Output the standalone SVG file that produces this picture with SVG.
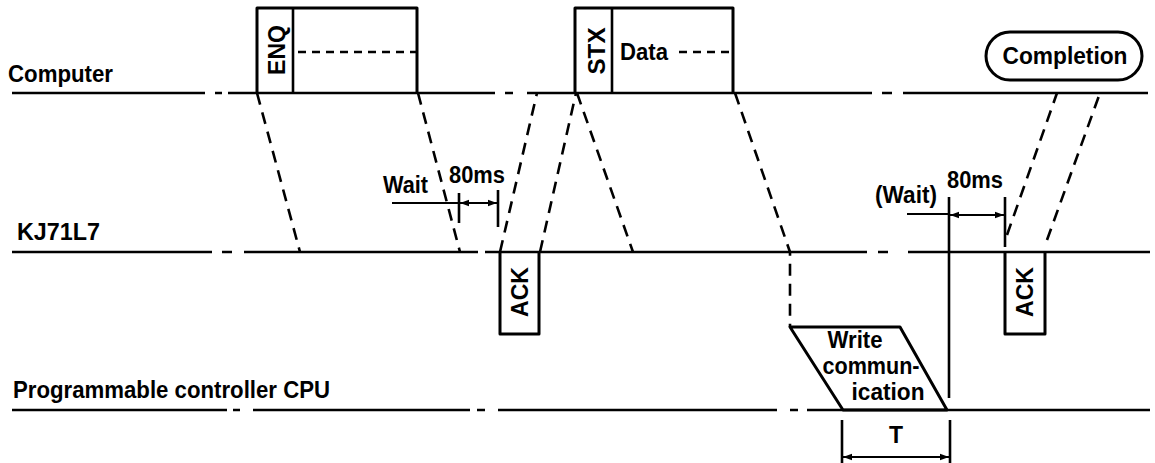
<svg xmlns="http://www.w3.org/2000/svg" width="1155" height="463" viewBox="0 0 1155 463">
<style>
text{font-family:"Liberation Sans",Arial,sans-serif;font-weight:bold;fill:#000}
.lbl{font-size:23px}
.box{fill:none;stroke:#000;stroke-width:3;stroke-linejoin:round}
.ln{stroke:#000;stroke-width:2.6;fill:none}
.thin{stroke:#000;stroke-width:2.2;fill:none}
.dsh{stroke:#000;stroke-width:2.6;fill:none;stroke-dasharray:12 8}
.dshs{stroke:#000;stroke-width:2.6;fill:none;stroke-dasharray:8 6}
</style>
<defs>
<marker id="ah" viewBox="0 0 10 10" refX="10" refY="5" markerWidth="11" markerHeight="9" orient="auto-start-reverse" markerUnits="userSpaceOnUse">
<path d="M0,1.5 L10,5 L0,8.5 Z" fill="#000"/>
</marker>
</defs>
<rect width="1155" height="463" fill="#fff"/>

<g id="lane-computer">
<text class="lbl" x="8" y="82" textLength="105" lengthAdjust="spacingAndGlyphs">Computer</text>
<path class="ln" d="M12,93H205 M215,93H222 M228,93H495 M505,93H513 M527,93H872 M882,93H892 M903,93H1148"/>
</g>
<g id="lane-kj71l7">
<text class="lbl" x="17" y="240" textLength="83" lengthAdjust="spacingAndGlyphs">KJ71L7</text>
<path class="ln" d="M12,252H212 M222,252H232 M244,252H478 M485,252H867 M878,252H888 M908,252H1150"/>
</g>
<g id="lane-cpu">
<text class="lbl" x="13" y="398" textLength="317" lengthAdjust="spacingAndGlyphs">Programmable controller CPU</text>
<path class="ln" d="M12,410H227 M233,410H240 M253,410H470 M477,410H485 M498,410H777 M790,410H798 M807,410H1150"/>
</g>

<g id="node-enq">
<path class="box" d="M257,93V8H417V93"/>
<line class="ln" x1="293" y1="8" x2="293" y2="93"/>
<line class="dshs" x1="298" y1="52" x2="417" y2="52"/>
<text class="lbl" transform="translate(285,50) rotate(-90)" text-anchor="middle" textLength="50" lengthAdjust="spacingAndGlyphs">ENQ</text>
</g>

<g id="node-stx">
<path class="box" d="M575,93V8H733V93"/>
<line class="ln" x1="612" y1="8" x2="612" y2="93"/>
<text class="lbl" transform="translate(605,51) rotate(-90)" text-anchor="middle" textLength="47" lengthAdjust="spacingAndGlyphs">STX</text>
<text class="lbl" x="620" y="60" textLength="48" lengthAdjust="spacingAndGlyphs">Data</text>
<line class="dshs" x1="679" y1="52" x2="733" y2="52"/>
</g>

<g id="node-completion">
<rect class="box" x="986" y="32" width="156" height="48" rx="24" ry="24"/>
<text class="lbl" x="1065" y="64" text-anchor="middle" textLength="125" lengthAdjust="spacingAndGlyphs">Completion</text>
</g>

<g id="node-ack1">
<path class="box" d="M500,252V334H539V252"/>
<text class="lbl" transform="translate(528,292) rotate(-90)" text-anchor="middle" textLength="50" lengthAdjust="spacingAndGlyphs">ACK</text>
</g>

<g id="node-ack2">
<path class="box" d="M1005,252V334H1045V252"/>
<text class="lbl" transform="translate(1033,292) rotate(-90)" text-anchor="middle" textLength="50" lengthAdjust="spacingAndGlyphs">ACK</text>
</g>

<g id="node-write">
<path class="box" d="M790,327H900L947,410H843Z"/>
<text class="lbl" x="855" y="348" text-anchor="middle" textLength="55" lengthAdjust="spacingAndGlyphs">Write</text>
<text class="lbl" x="871" y="374" text-anchor="middle" textLength="97" lengthAdjust="spacingAndGlyphs">commun-</text>
<text class="lbl" x="888" y="400" text-anchor="middle" textLength="73" lengthAdjust="spacingAndGlyphs">ication</text>
</g>

<g id="connectors">
<line class="dsh" x1="257" y1="93" x2="300" y2="252"/>
<line class="dsh" x1="418" y1="93" x2="460" y2="252"/>
<line class="dsh" x1="500" y1="252" x2="537" y2="93"/>
<line class="dsh" x1="540" y1="252" x2="576" y2="93"/>
<line class="dsh" x1="577" y1="93" x2="633" y2="252"/>
<path class="dsh" d="M735,93L790,252V327"/>
<line class="dsh" x1="1007" y1="235" x2="1057" y2="93"/>
<line class="dsh" x1="1047" y1="240" x2="1100" y2="93"/>
</g>

<g id="timing-1">
<text class="lbl" x="383" y="193" textLength="45" lengthAdjust="spacingAndGlyphs">Wait</text>
<text class="lbl" x="449" y="183" textLength="56" lengthAdjust="spacingAndGlyphs">80ms</text>
<line class="thin" x1="392" y1="203" x2="459" y2="203"/>
<line class="ln" x1="459" y1="193" x2="459" y2="223"/>
<line class="ln" x1="498" y1="190" x2="498" y2="227"/>
<line class="thin" x1="460" y1="203" x2="497" y2="203" marker-start="url(#ah)" marker-end="url(#ah)"/>
</g>

<g id="timing-2">
<text class="lbl" x="875" y="203" textLength="62" lengthAdjust="spacingAndGlyphs">(Wait)</text>
<text class="lbl" x="947" y="188" textLength="56" lengthAdjust="spacingAndGlyphs">80ms</text>
<line class="thin" x1="907" y1="214" x2="949" y2="214"/>
<line class="ln" x1="949" y1="197" x2="949" y2="398"/>
<line class="ln" x1="1005" y1="197" x2="1005" y2="247"/>
<line class="thin" x1="950" y1="215" x2="1004" y2="215" marker-start="url(#ah)" marker-end="url(#ah)"/>
</g>

<g id="timing-t">
<line class="ln" x1="842" y1="420" x2="842" y2="463"/>
<line class="ln" x1="950" y1="420" x2="950" y2="463"/>
<line class="thin" x1="843" y1="457" x2="949" y2="457" marker-start="url(#ah)" marker-end="url(#ah)"/>
<text class="lbl" x="896" y="443" text-anchor="middle">T</text>
</g>
</svg>
